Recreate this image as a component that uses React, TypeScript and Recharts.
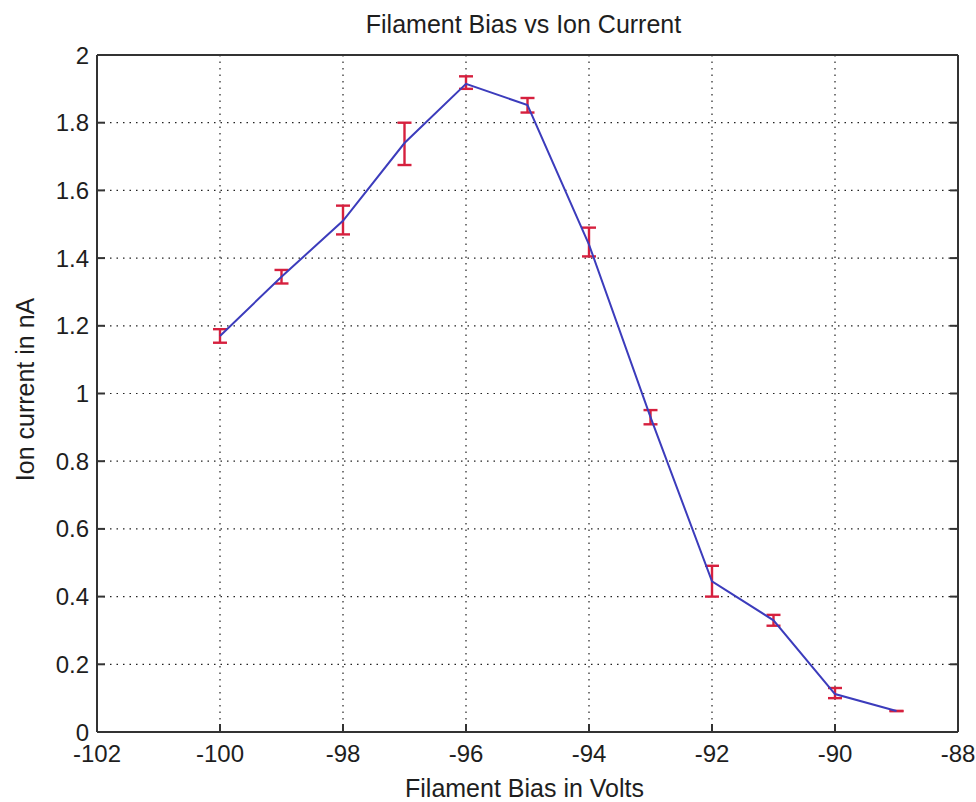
import React from 'react';
import { LineChart, Line, XAxis, YAxis, CartesianGrid, ErrorBar } from 'recharts';

// Filament bias (V) and measured ion current (nA)
const bias = [-100, -99, -98, -97, -96, -95, -94, -93, -92, -91, -90, -89];
const current = [1.17, 1.345, 1.51, 1.74, 1.915, 1.852, 1.44, 0.93, 0.445, 0.33, 0.112, 0.062];
// error below / above each mean
const errLow = [0.02, 0.02, 0.04, 0.065, 0.015, 0.022, 0.035, 0.021, 0.045, 0.016, 0.012, 0];
const errHigh = [0.02, 0.02, 0.045, 0.06, 0.022, 0.021, 0.05, 0.021, 0.046, 0.016, 0.018, 0];

const xTicks = [-102, -100, -98, -96, -94, -92, -90, -88];
const yTicks = [0, 0.2, 0.4, 0.6, 0.8, 1, 1.2, 1.4, 1.6, 1.8, 2];

const data = bias.map((b, i) => ({
  bias: b,
  current: current[i],
  err: [errLow[i], errHigh[i]],
}));

const FONT = '"Liberation Sans", Arial, Helvetica, sans-serif';
const TEXT = '#1e1e1e';
const FRAME = '#333333';
const TICK_LEN = 8;
const TICK_FONT = 24;

const TitleLabel = (props: any) => {
  const vb = props.viewBox || {};
  return (
    <text
      x={vb.x + vb.width / 2 - 4}
      y={vb.y + vb.height - 22}
      textAnchor="middle"
      fontFamily={FONT}
      fontSize={25}
      fill={TEXT}
    >
      Filament Bias vs Ion Current
    </text>
  );
};

const XTitle = (props: any) => {
  const vb = props.viewBox || {};
  return (
    <text
      x={vb.x + vb.width / 2 - 3}
      y={vb.y + 65}
      textAnchor="middle"
      fontFamily={FONT}
      fontSize={25}
      fill={TEXT}
    >
      Filament Bias in Volts
    </text>
  );
};

const YTitle = (props: any) => {
  const vb = props.viewBox || {};
  const cx = vb.x + 25;
  const cy = vb.y + vb.height / 2 - 4;
  return (
    <text
      x={cx}
      y={cy}
      transform={`rotate(-90, ${cx}, ${cy})`}
      textAnchor="middle"
      dominantBaseline="central"
      fontFamily={FONT}
      fontSize={25}
      fill={TEXT}
    >
      Ion current in nA
    </text>
  );
};

// bottom axis: inward tick mark plus label (label top sits tickMargin below the axis line)
const BottomTick = (props: any) => {
  const { x, y, payload } = props;
  const axisY = y - 11;
  return (
    <g>
      <line x1={x} y1={axisY} x2={x} y2={axisY - TICK_LEN} stroke={FRAME} strokeWidth={2} />
      <text x={x} y={y + 19} textAnchor="middle" fontFamily={FONT} fontSize={TICK_FONT} fill={TEXT}>
        {payload.value}
      </text>
    </g>
  );
};

// left axis: inward tick mark plus right-aligned label
const LeftTick = (props: any) => {
  const { x, y, payload } = props;
  const axisX = x + 8;
  return (
    <g>
      <line x1={axisX} y1={y} x2={axisX + TICK_LEN} y2={y} stroke={FRAME} strokeWidth={2} />
      <text x={x} y={y + 8.5} textAnchor="end" fontFamily={FONT} fontSize={TICK_FONT} fill={TEXT}>
        {String(Math.round(payload.value * 10) / 10)}
      </text>
    </g>
  );
};

const TopTick = (props: any) => {
  const { x, y } = props;
  return <line x1={x} y1={y} x2={x} y2={y + TICK_LEN} stroke={FRAME} strokeWidth={2} />;
};

const RightTick = (props: any) => {
  const { x, y } = props;
  return <line x1={x} y1={y} x2={x - TICK_LEN} y2={y} stroke={FRAME} strokeWidth={2} />;
};

export default function App() {
  return (
    <div style={{ position: 'absolute', left: 0, top: 0, width: 976, height: 802, background: '#fff' }}>
      <LineChart
        width={976}
        height={802}
        data={data}
        margin={{ top: 54, right: 17, bottom: 10, left: 0 }}
      >
        <CartesianGrid
          stroke="#222"
          strokeDasharray="1.5 5"
          strokeWidth={1.2}
          verticalValues={xTicks}
          horizontalValues={yTicks}
        />
        <XAxis
          dataKey="bias"
          type="number"
          domain={[-102, -88]}
          ticks={xTicks}
          allowDataOverflow
          height={60}
          tickSize={0}
          tickMargin={11}
          tickLine={false}
          stroke={FRAME}
          strokeWidth={2}
          tick={<BottomTick />}
          label={<XTitle />}
        />
        <XAxis
          xAxisId="top"
          orientation="top"
          type="number"
          domain={[-102, -88]}
          ticks={xTicks}
          allowDataOverflow
          height={1}
          tickSize={0}
          tickMargin={0}
          tickLine={false}
          stroke={FRAME}
          strokeWidth={2}
          tick={<TopTick />}
          label={<TitleLabel />}
        />
        <YAxis
          type="number"
          domain={[0, 2]}
          ticks={yTicks}
          allowDataOverflow
          width={97}
          tickSize={0}
          tickMargin={8}
          tickLine={false}
          stroke={FRAME}
          strokeWidth={2}
          tick={<LeftTick />}
          label={<YTitle />}
        />
        <YAxis
          yAxisId="right"
          orientation="right"
          type="number"
          domain={[0, 2]}
          ticks={yTicks}
          allowDataOverflow
          width={1}
          tickSize={0}
          tickMargin={0}
          tickLine={false}
          stroke={FRAME}
          strokeWidth={2}
          tick={<RightTick />}
        />
        <Line
          type="linear"
          dataKey="current"
          stroke="#3c3cbc"
          strokeWidth={2}
          dot={false}
          isAnimationActive={false}
        >
          <ErrorBar
            dataKey="err"
            direction="y"
            width={7}
            stroke="#d6203e"
            strokeWidth={2.4}
            isAnimationActive={false}
          />
        </Line>
      </LineChart>
    </div>
  );
}
